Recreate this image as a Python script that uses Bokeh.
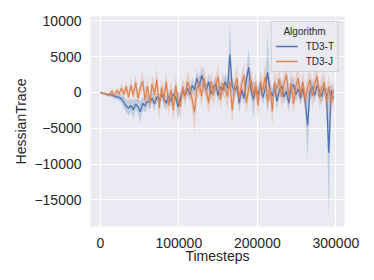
import numpy as np
from bokeh.plotting import figure
from bokeh.models import Range1d, FixedTicker, Legend, LegendItem
from bokeh.embed import file_html
from bokeh.resources import INLINE

timesteps = list(range(0, 300000, 3000))

td3t_mean = [0, -100, -200, -300, -250, -400, -500, -600, -700, -900,
             -1400, -1900, -2200, -1800, -2400, -1600, -2000, -2700, -1500, -1900,
             -1200, -1400, -800, -1600, -600, -1100, -300, -900, -1500, -500,
             -1200, -200, -700, -2000, -800, 200, -500, 600, -300, 1000,
             400, 2000, 800, 2400, 1200, 300, 1500, -200, 700, 1200,
             -400, 800, 300, 1500, 600, 5300, 800, 200, 900, -1500,
             400, -800, 1800, 3500, 300, -1000, 600, -300, 1000, -700,
             500, 2800, 400, -500, 800, -1200, 300, 900, -600, 200,
             -1500, 700, 1100, -300, 500, -800, 600, -1300, -4600, 200,
             800, -400, 1000, 300, -600, 700, -300, -8400, 300, -900]
td3t_ci = [50, 100, 150, 200, 250, 300, 350, 400, 500, 600,
           800, 900, 1000, 900, 1200, 800, 1000, 1500, 900, 1000,
           800, 900, 700, 1000, 600, 800, 700, 800, 1000, 700,
           900, 600, 800, 2000, 900, 800, 700, 1000, 900, 1100,
           800, 1300, 1000, 1400, 1100, 900, 1200, 1000, 900, 1100,
           1000, 900, 800, 1200, 1000, 4300, 1200, 900, 1000, 1500,
           900, 1000, 1400, 2800, 1100, 2500, 1000, 1000, 1200, 1000,
           900, 5500, 1200, 1000, 1100, 1300, 1000, 1100, 1000, 900,
           1400, 1000, 1200, 1000, 900, 1100, 1000, 1300, 4900, 1000,
           1100, 900, 1200, 1000, 1100, 1000, 900, 9000, 1000, 1200]

td3j_mean = [0, -200, -100, -400, -300, 200, -500, 300, -200, 600,
             -300, 800, -600, 1000, -400, 1400, -800, 600, 1600, -1000,
             900, -1500, 1200, -300, 1800, -2200, 700, -900, 1500, -1800,
             400, -2500, 1000, -1200, -2000, 800, -600, 1500, 600, -1000,
             -2800, 500, 1200, -500, 2000, 300, -1500, 1600, -400, 900,
             2200, -1000, 1300, 400, -600, 1500, -2500, 800, 2000, -800,
             1200, 2400, -1500, 600, 1800, -300, 1000, -1800, 1500, 300,
             2200, -1200, 800, -2600, 1400, 500, 1900, -700, 1200, 2500,
             -400, 1300, -1600, 900, 2000, -300, 1500, -1000, 700, 1800,
             -500, 1200, 2300, -800, 600, 1400, -1200, 800, -1500, 400]
td3j_ci = [50, 100, 150, 250, 300, 400, 400, 500, 500, 600,
           700, 800, 900, 1000, 900, 1200, 1000, 1100, 1400, 1200,
           1300, 1400, 1200, 1500, 1600, 1800, 1300, 1500, 1400, 1700,
           1200, 1800, 1500, 1400, 1600, 1300, 1500, 1700, 1400, 1500,
           3000, 1400, 1600, 1500, 1800, 1400, 1700, 1600, 1500, 1400,
           1800, 1500, 1600, 1400, 1700, 1500, 2000, 1600, 1800, 1500,
           1600, 1700, 1800, 1500, 1600, 1400, 1700, 1900, 1600, 1500,
           1800, 1700, 1500, 2000, 1600, 1400, 1800, 1700, 1600, 1900,
           1700, 1800, 1500, 1600, 1900, 1400, 1700, 1800, 1600, 1500,
           1700, 1600, 1800, 1500, 1700, 1600, 1800, 1500, 1700, 1400]

x_ticks = [0, 100000, 200000, 300000]
y_ticks = [-15000, -10000, -5000, 0, 5000, 10000]
series_names = ["TD3-T", "TD3-J"]
colors = ["#4c72b0", "#dd8452"]

FONT = "Liberation Sans"
TXT = "#262626"

p = figure(width=366, height=272, output_backend="svg", toolbar_location=None,
           x_range=Range1d(-12500, 311000), y_range=Range1d(-18700, 10600),
           min_border_left=90, min_border_top=16, min_border_right=22, min_border_bottom=46,
           background_fill_color="#eaeaf2", border_fill_color="white", outline_line_color=None)

p.grid.grid_line_color = "white"
p.grid.grid_line_width = 1.2
p.xaxis.ticker = FixedTicker(ticks=x_ticks)
p.yaxis.ticker = FixedTicker(ticks=y_ticks)
p.yaxis.major_label_overrides = {t: (str(t).replace("-", "\u2212")) for t in y_ticks}
p.xaxis.major_label_overrides = {t: str(t) for t in x_ticks}
for ax in (p.xaxis[0], p.yaxis[0]):
    ax.axis_line_color = None
    ax.major_tick_line_color = None
    ax.minor_tick_line_color = None
    ax.major_tick_out = 0
    ax.major_tick_in = 0
    ax.minor_tick_out = 0
    ax.minor_tick_in = 0
    ax.major_label_text_font = FONT
    ax.major_label_text_font_size = "14px"
    ax.major_label_text_color = TXT
    ax.axis_label_text_font = FONT
    ax.axis_label_text_font_size = "14px"
    ax.axis_label_text_font_style = "normal"
    ax.axis_label_text_color = TXT
p.xaxis.axis_label = "Timesteps"
p.yaxis.axis_label = "HessianTrace"
p.xaxis.major_label_standoff = 11
p.yaxis.major_label_standoff = 9
p.xaxis.axis_label_standoff = -3
p.yaxis.axis_label_standoff = 2

items = []
for name, col, mean, ci in [(series_names[0], colors[0], td3t_mean, td3t_ci),
                            (series_names[1], colors[1], td3j_mean, td3j_ci)]:
    m = np.array(mean, dtype=float)
    c = np.array(ci, dtype=float)
    p.varea(x=timesteps, y1=m - c, y2=m + c, fill_color=col, fill_alpha=0.25)
    r = p.line(timesteps, m, line_color=col, line_width=1.3)
    items.append(LegendItem(label=name, renderers=[r]))

legend = Legend(items=items, title="   Algorithm", location="top_right",
                background_fill_color="#eaeaf2", background_fill_alpha=0.8,
                border_line_color="#cccccc", border_line_alpha=0.9,
                label_text_font=FONT, label_text_font_size="10px", label_text_color=TXT,
                title_text_font=FONT, title_text_font_size="10px", title_text_color=TXT,
                title_text_font_style="normal",
                glyph_width=22, glyph_height=10, label_standoff=8, padding=4,
                spacing=3, label_height=12, title_standoff=3, margin=5)
p.add_layout(legend)

open("out.html", "w").write(file_html(p, INLINE))
